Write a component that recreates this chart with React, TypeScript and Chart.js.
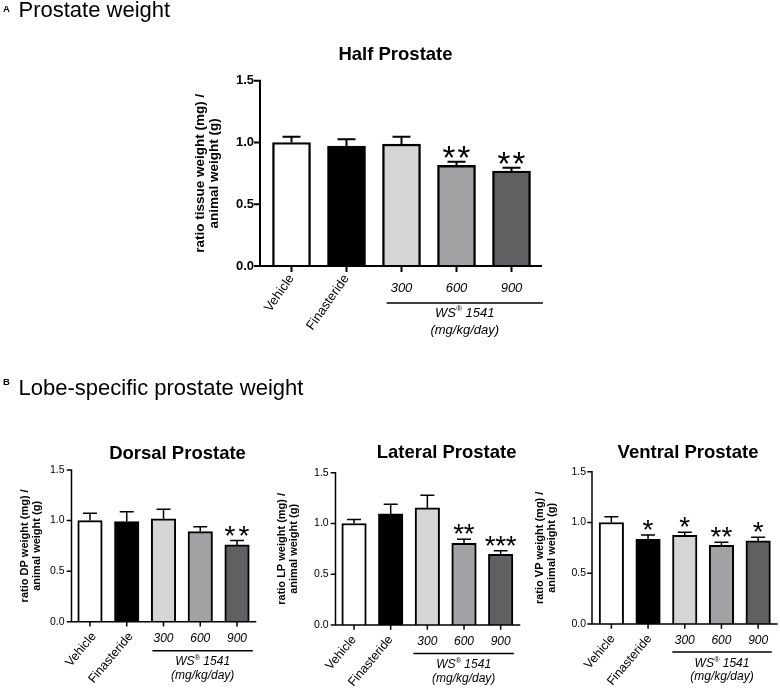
import React, { useEffect, useRef } from 'react';
import { Chart, registerables } from 'chart.js';

Chart.register(...registerables);

const FONT = "'Liberation Sans', Arial, Helvetica, sans-serif";
const W = 780;
const H = 690;

// ---------- data ----------
const groups = ['Vehicle', 'Finasteride', '300', '600', '900'];
const rotatedGroups = ['Vehicle', 'Finasteride'];
const doseGroupParts = ['WS', '®', ' 1541'];
const doseUnit = '(mg/kg/day)';
const yTicks = [0, 0.5, 1.0, 1.5];

const halfMean = [1.0, 0.971, 0.987, 0.815, 0.769];
const halfSem = [0.046, 0.056, 0.059, 0.029, 0.026];
const halfSig = ['', '', '', '**', '**'];

const dorsalMean = [1.0, 0.99, 1.017, 0.891, 0.759];
const dorsalSem = [0.073, 0.096, 0.096, 0.047, 0.043];
const dorsalSig = ['', '', '', '', '**'];

const lateralMean = [1.0, 1.094, 1.153, 0.805, 0.697];
const lateralSem = [0.04, 0.095, 0.125, 0.039, 0.035];
const lateralSig = ['', '', '', '**', '***'];

const ventralMean = [1.0, 0.834, 0.874, 0.775, 0.818];
const ventralSem = [0.057, 0.043, 0.029, 0.03, 0.036];
const ventralSig = ['', '*', '*', '**', '*'];

const barColors = ['#ffffff', '#000000', '#d5d5d5', '#a2a2a5', '#606063'];

const headerA = ['A', 'Prostate weight'];
const headerB = ['B', 'Lobe-specific prostate weight'];

// ---------- layout / style ----------
type Panel = {
  title: string;
  yTitle: string[];
  mean: number[];
  sem: number[];
  sig: string[];
  area: { l: number; r: number; t: number; b: number };
  yAxisX: number;
  xAxisEnd: number;
  yW: number;
  yTitlePad: number;
  yTitleSize: number;
  tickFont: { size: number; weight: string };
  tickPad: number;
  titleX: number;
  titleY: number;
  titleSize: number;
  barW: number;
  barBorder: number;
  errLw: number;
  cap: number;
  axisLw: number;
  tickLen: number;
  rotSize: number;
  rotAngle: number;
  rotDx: number;
  rotDy: number;
  doseSize: number;
  doseDy: number;
  lineDy: number;
  lineStart: number;
  lineEnd: number;
  wsDy: number;
  unitDy: number;
  starSize: number;
  starSpacing: number;
  starGap: number;
  headers?: boolean;
};

const panels: Panel[] = [
  {
    title: 'Half Prostate',
    yTitle: ['ratio tissue weight (mg) /', 'animal weight (g)'],
    mean: halfMean, sem: halfSem, sig: halfSig,
    area: { l: 264, r: 539, t: 80.7, b: 266 },
    yAxisX: 260, xAxisEnd: 541, yW: 80, yTitlePad: 8.5, yTitleSize: 13.5,
    tickFont: { size: 13, weight: 'bold' }, tickPad: 10,
    titleX: 395.5, titleY: 59.5, titleSize: 18.5,
    barW: 38, barBorder: 2.4, errLw: 2, cap: 18, axisLw: 2, tickLen: 5,
    rotSize: 13, rotAngle: 55, rotDx: 0, rotDy: 10,
    doseSize: 13, doseDy: 22, lineDy: 37, lineStart: -0.27, lineEnd: 0.57,
    wsDy: 47, unitDy: 64,
    starSize: 33, starSpacing: 15, starGap: 10,
    headers: true,
  },
  {
    title: 'Dorsal Prostate',
    yTitle: ['ratio DP weight (mg) /', 'animal weight (g)'],
    mean: dorsalMean, sem: dorsalSem, sig: dorsalSig,
    area: { l: 71.6, r: 255.4, t: 470, b: 621.7 },
    yAxisX: 71.5, xAxisEnd: 255.5, yW: 60, yTitlePad: 7.3, yTitleSize: 11,
    tickFont: { size: 10.5, weight: 'normal' }, tickPad: 7,
    titleX: 177.5, titleY: 458.5, titleSize: 18.5,
    barW: 24.5, barBorder: 2, errLw: 1.5, cap: 14, axisLw: 1.5, tickLen: 4,
    rotSize: 12.5, rotAngle: 50, rotDx: 4, rotDy: 12.5,
    doseSize: 12, doseDy: 16.5, lineDy: 29, lineStart: -0.3, lineEnd: 0.43,
    wsDy: 40, unitDy: 53.5,
    starSize: 28, starSpacing: 14, starGap: 10,
  },
  {
    title: 'Lateral Prostate',
    yTitle: ['ratio LP weight (mg) /', 'animal weight (g)'],
    mean: lateralMean, sem: lateralSem, sig: lateralSig,
    area: { l: 335.7, r: 519, t: 472.7, b: 625 },
    yAxisX: 335.5, xAxisEnd: 519.5, yW: 60, yTitlePad: 0, yTitleSize: 11,
    tickFont: { size: 10.5, weight: 'normal' }, tickPad: 7,
    titleX: 446.6, titleY: 458.3, titleSize: 18.5,
    barW: 24.5, barBorder: 2, errLw: 1.5, cap: 14, axisLw: 1.5, tickLen: 4,
    rotSize: 12.5, rotAngle: 50, rotDx: 0, rotDy: 12.5,
    doseSize: 12, doseDy: 16.5, lineDy: 28.5, lineStart: -0.38, lineEnd: 0.36,
    wsDy: 40, unitDy: 53.5,
    starSize: 28, starSpacing: 10.5, starGap: 10,
  },
  {
    title: 'Ventral Prostate',
    yTitle: ['ratio VP weight (mg) /', 'animal weight (g)'],
    mean: ventralMean, sem: ventralSem, sig: ventralSig,
    area: { l: 593, r: 776.5, t: 471.7, b: 624 },
    yAxisX: 592, xAxisEnd: 777, yW: 60, yTitlePad: 1, yTitleSize: 11,
    tickFont: { size: 10.5, weight: 'normal' }, tickPad: 7,
    titleX: 688, titleY: 457.7, titleSize: 18.5,
    barW: 24.5, barBorder: 2, errLw: 1.5, cap: 14, axisLw: 1.5, tickLen: 4,
    rotSize: 12.5, rotAngle: 50, rotDx: 1.5, rotDy: 12.5,
    doseSize: 12, doseDy: 16.5, lineDy: 28, lineStart: -0.34, lineEnd: 0.37,
    wsDy: 39.5, unitDy: 53,
    starSize: 28, starSpacing: 11, starGap: 10,
  },
];

function drawDoseGroup(ctx: CanvasRenderingContext2D, cx: number, y: number, size: number) {
  const fonts = [
    `italic ${size}px ${FONT}`,
    `italic ${size * 0.62}px ${FONT}`,
    `italic ${size}px ${FONT}`,
  ];
  const rises = [0, size * 0.32, 0];
  let total = 0;
  const widths = doseGroupParts.map((t, i) => {
    ctx.font = fonts[i];
    const w = ctx.measureText(t).width;
    total += w;
    return w;
  });
  let x = cx - total / 2;
  ctx.textAlign = 'left';
  ctx.textBaseline = 'middle';
  doseGroupParts.forEach((t, i) => {
    ctx.font = fonts[i];
    ctx.fillText(t, x, y - rises[i]);
    x += widths[i];
  });
}

function makePlugin(p: Panel) {
  return {
    id: 'prostateDecor',
    afterDatasetsDraw(chart: any) {
      const ctx: CanvasRenderingContext2D = chart.ctx;
      const xs = chart.scales.x;
      const ys = chart.scales.y;
      const bottom = ys.getPixelForValue(0);
      const topY = ys.getPixelForValue(yTicks[yTicks.length - 1]);
      ctx.save();
      ctx.fillStyle = '#000';
      ctx.strokeStyle = '#000';

      // error bars (upper SEM)
      ctx.lineWidth = p.errLw;
      ctx.lineCap = 'butt';
      p.mean.forEach((m, i) => {
        const x = xs.getPixelForValue(i);
        const y0 = ys.getPixelForValue(m);
        const y1 = ys.getPixelForValue(m + p.sem[i]);
        ctx.beginPath();
        ctx.moveTo(x, y0);
        ctx.lineTo(x, y1);
        ctx.moveTo(x - p.cap / 2, y1);
        ctx.lineTo(x + p.cap / 2, y1);
        ctx.stroke();
      });

      // axes
      ctx.lineWidth = p.axisLw;
      ctx.lineCap = 'square';
      ctx.beginPath();
      ctx.moveTo(p.yAxisX, topY);
      ctx.lineTo(p.yAxisX, bottom);
      ctx.lineTo(p.xAxisEnd, bottom);
      yTicks.forEach((v) => {
        const y = ys.getPixelForValue(v);
        ctx.moveTo(p.yAxisX - p.tickLen, y);
        ctx.lineTo(p.yAxisX, y);
      });
      groups.forEach((_, i) => {
        const x = xs.getPixelForValue(i);
        ctx.moveTo(x, bottom);
        ctx.lineTo(x, bottom + p.tickLen);
      });
      ctx.stroke();

      // significance stars
      ctx.font = `normal ${p.starSize}px ${FONT}`;
      const mt = ctx.measureText('*');
      const mid = (mt.actualBoundingBoxAscent - mt.actualBoundingBoxDescent) / 2;
      ctx.textAlign = 'center';
      ctx.textBaseline = 'alphabetic';
      p.sig.forEach((s, i) => {
        const n = s.length;
        if (!n) return;
        const x = xs.getPixelForValue(i);
        const yc = ys.getPixelForValue(p.mean[i] + p.sem[i]) - p.starGap;
        for (let k = 0; k < n; k++) {
          ctx.fillText('*', x + (k - (n - 1) / 2) * p.starSpacing, yc + mid);
        }
      });

      // x labels
      groups.forEach((g, i) => {
        const x = xs.getPixelForValue(i);
        if (rotatedGroups.includes(g)) {
          ctx.save();
          ctx.translate(x + p.rotDx, bottom + p.rotDy);
          ctx.rotate((-p.rotAngle * Math.PI) / 180);
          ctx.font = `normal ${p.rotSize}px ${FONT}`;
          ctx.textAlign = 'right';
          ctx.textBaseline = 'middle';
          ctx.fillText(g, 0, 0);
          ctx.restore();
        } else {
          ctx.font = `italic ${p.doseSize}px ${FONT}`;
          ctx.textAlign = 'center';
          ctx.textBaseline = 'middle';
          ctx.fillText(g, x, bottom + p.doseDy);
        }
      });

      // dose group bracket line
      const firstDose = groups.findIndex((g) => !rotatedGroups.includes(g));
      const lastDose = groups.length - 1;
      const step = xs.getPixelForValue(1) - xs.getPixelForValue(0);
      const lx0 = xs.getPixelForValue(firstDose) + p.lineStart * step;
      const lx1 = xs.getPixelForValue(lastDose) + p.lineEnd * step;
      ctx.lineWidth = 1.5;
      ctx.lineCap = 'butt';
      ctx.beginPath();
      ctx.moveTo(lx0, bottom + p.lineDy);
      ctx.lineTo(lx1, bottom + p.lineDy);
      ctx.stroke();
      const lc = (lx0 + lx1) / 2;
      drawDoseGroup(ctx, lc, bottom + p.wsDy, p.doseSize);
      ctx.font = `italic ${p.doseSize}px ${FONT}`;
      ctx.textAlign = 'center';
      ctx.textBaseline = 'middle';
      ctx.fillText(doseUnit, lc, bottom + p.unitDy);

      // chart title
      ctx.font = `bold ${p.titleSize}px ${FONT}`;
      ctx.textAlign = 'center';
      ctx.textBaseline = 'alphabetic';
      ctx.fillText(p.title, p.titleX, p.titleY);

      // panel headers
      if (p.headers) {
        ctx.textAlign = 'left';
        ctx.font = `bold 9.5px ${FONT}`;
        ctx.fillText(headerA[0], 3, 11.7);
        ctx.fillText(headerB[0], 3, 385);
        ctx.font = `normal 22px ${FONT}`;
        ctx.fillText(headerA[1], 18.5, 17);
        ctx.fillText(headerB[1], 18.5, 395);
      }
      ctx.restore();
    },
  };
}

function makeConfig(p: Panel): any {
  const xH = 20;
  return {
    type: 'bar',
    data: {
      labels: groups,
      datasets: [
        {
          data: p.mean,
          backgroundColor: barColors,
          borderColor: '#000000',
          borderWidth: p.barBorder,
          borderSkipped: 'start',
          barThickness: p.barW,
        },
      ],
    },
    options: {
      responsive: false,
      animation: false,
      devicePixelRatio: 1,
      layout: {
        padding: {
          left: p.area.l - p.yW,
          right: W - p.area.r,
          top: p.area.t,
          bottom: H - p.area.b - xH,
        },
      },
      plugins: {
        legend: { display: false },
        tooltip: { enabled: false },
        title: { display: false },
      },
      scales: {
        x: {
          type: 'category',
          offset: true,
          grid: { display: false, drawTicks: false },
          border: { display: false },
          ticks: { display: false },
          afterFit: (s: any) => {
            s.height = xH;
          },
        },
        y: {
          min: 0,
          max: 1.5,
          afterBuildTicks: (s: any) => {
            s.ticks = yTicks.map((v) => ({ value: v }));
          },
          grid: { display: false, drawTicks: false },
          border: { display: false },
          ticks: {
            color: '#000',
            padding: p.tickPad,
            font: { family: FONT, size: p.tickFont.size, weight: p.tickFont.weight },
            callback: (v: any) => Number(v).toFixed(1),
          },
          title: {
            display: true,
            text: p.yTitle,
            color: '#000',
            font: { family: FONT, size: p.yTitleSize, weight: 'bold', lineHeight: 1.1 },
            padding: { top: p.yTitlePad, bottom: 0 },
          },
          afterFit: (s: any) => {
            s.width = p.yW;
          },
        },
      },
    },
    plugins: [makePlugin(p)],
  };
}

function PanelChart({ panel }: { panel: Panel }) {
  const ref = useRef<HTMLCanvasElement | null>(null);
  useEffect(() => {
    if (!ref.current) return;
    const chart = new Chart(ref.current, makeConfig(panel));
    return () => chart.destroy();
  }, [panel]);
  return (
    <canvas
      ref={ref}
      width={W}
      height={H}
      style={{ position: 'absolute', left: 0, top: 0, width: W, height: H }}
    />
  );
}

export default function App() {
  return (
    <div
      style={{
        position: 'absolute',
        left: 0,
        top: 0,
        width: W,
        height: H,
        background: '#ffffff',
        overflow: 'hidden',
      }}
    >
      {panels.map((p) => (
        <PanelChart key={p.title} panel={p} />
      ))}
    </div>
  );
}
